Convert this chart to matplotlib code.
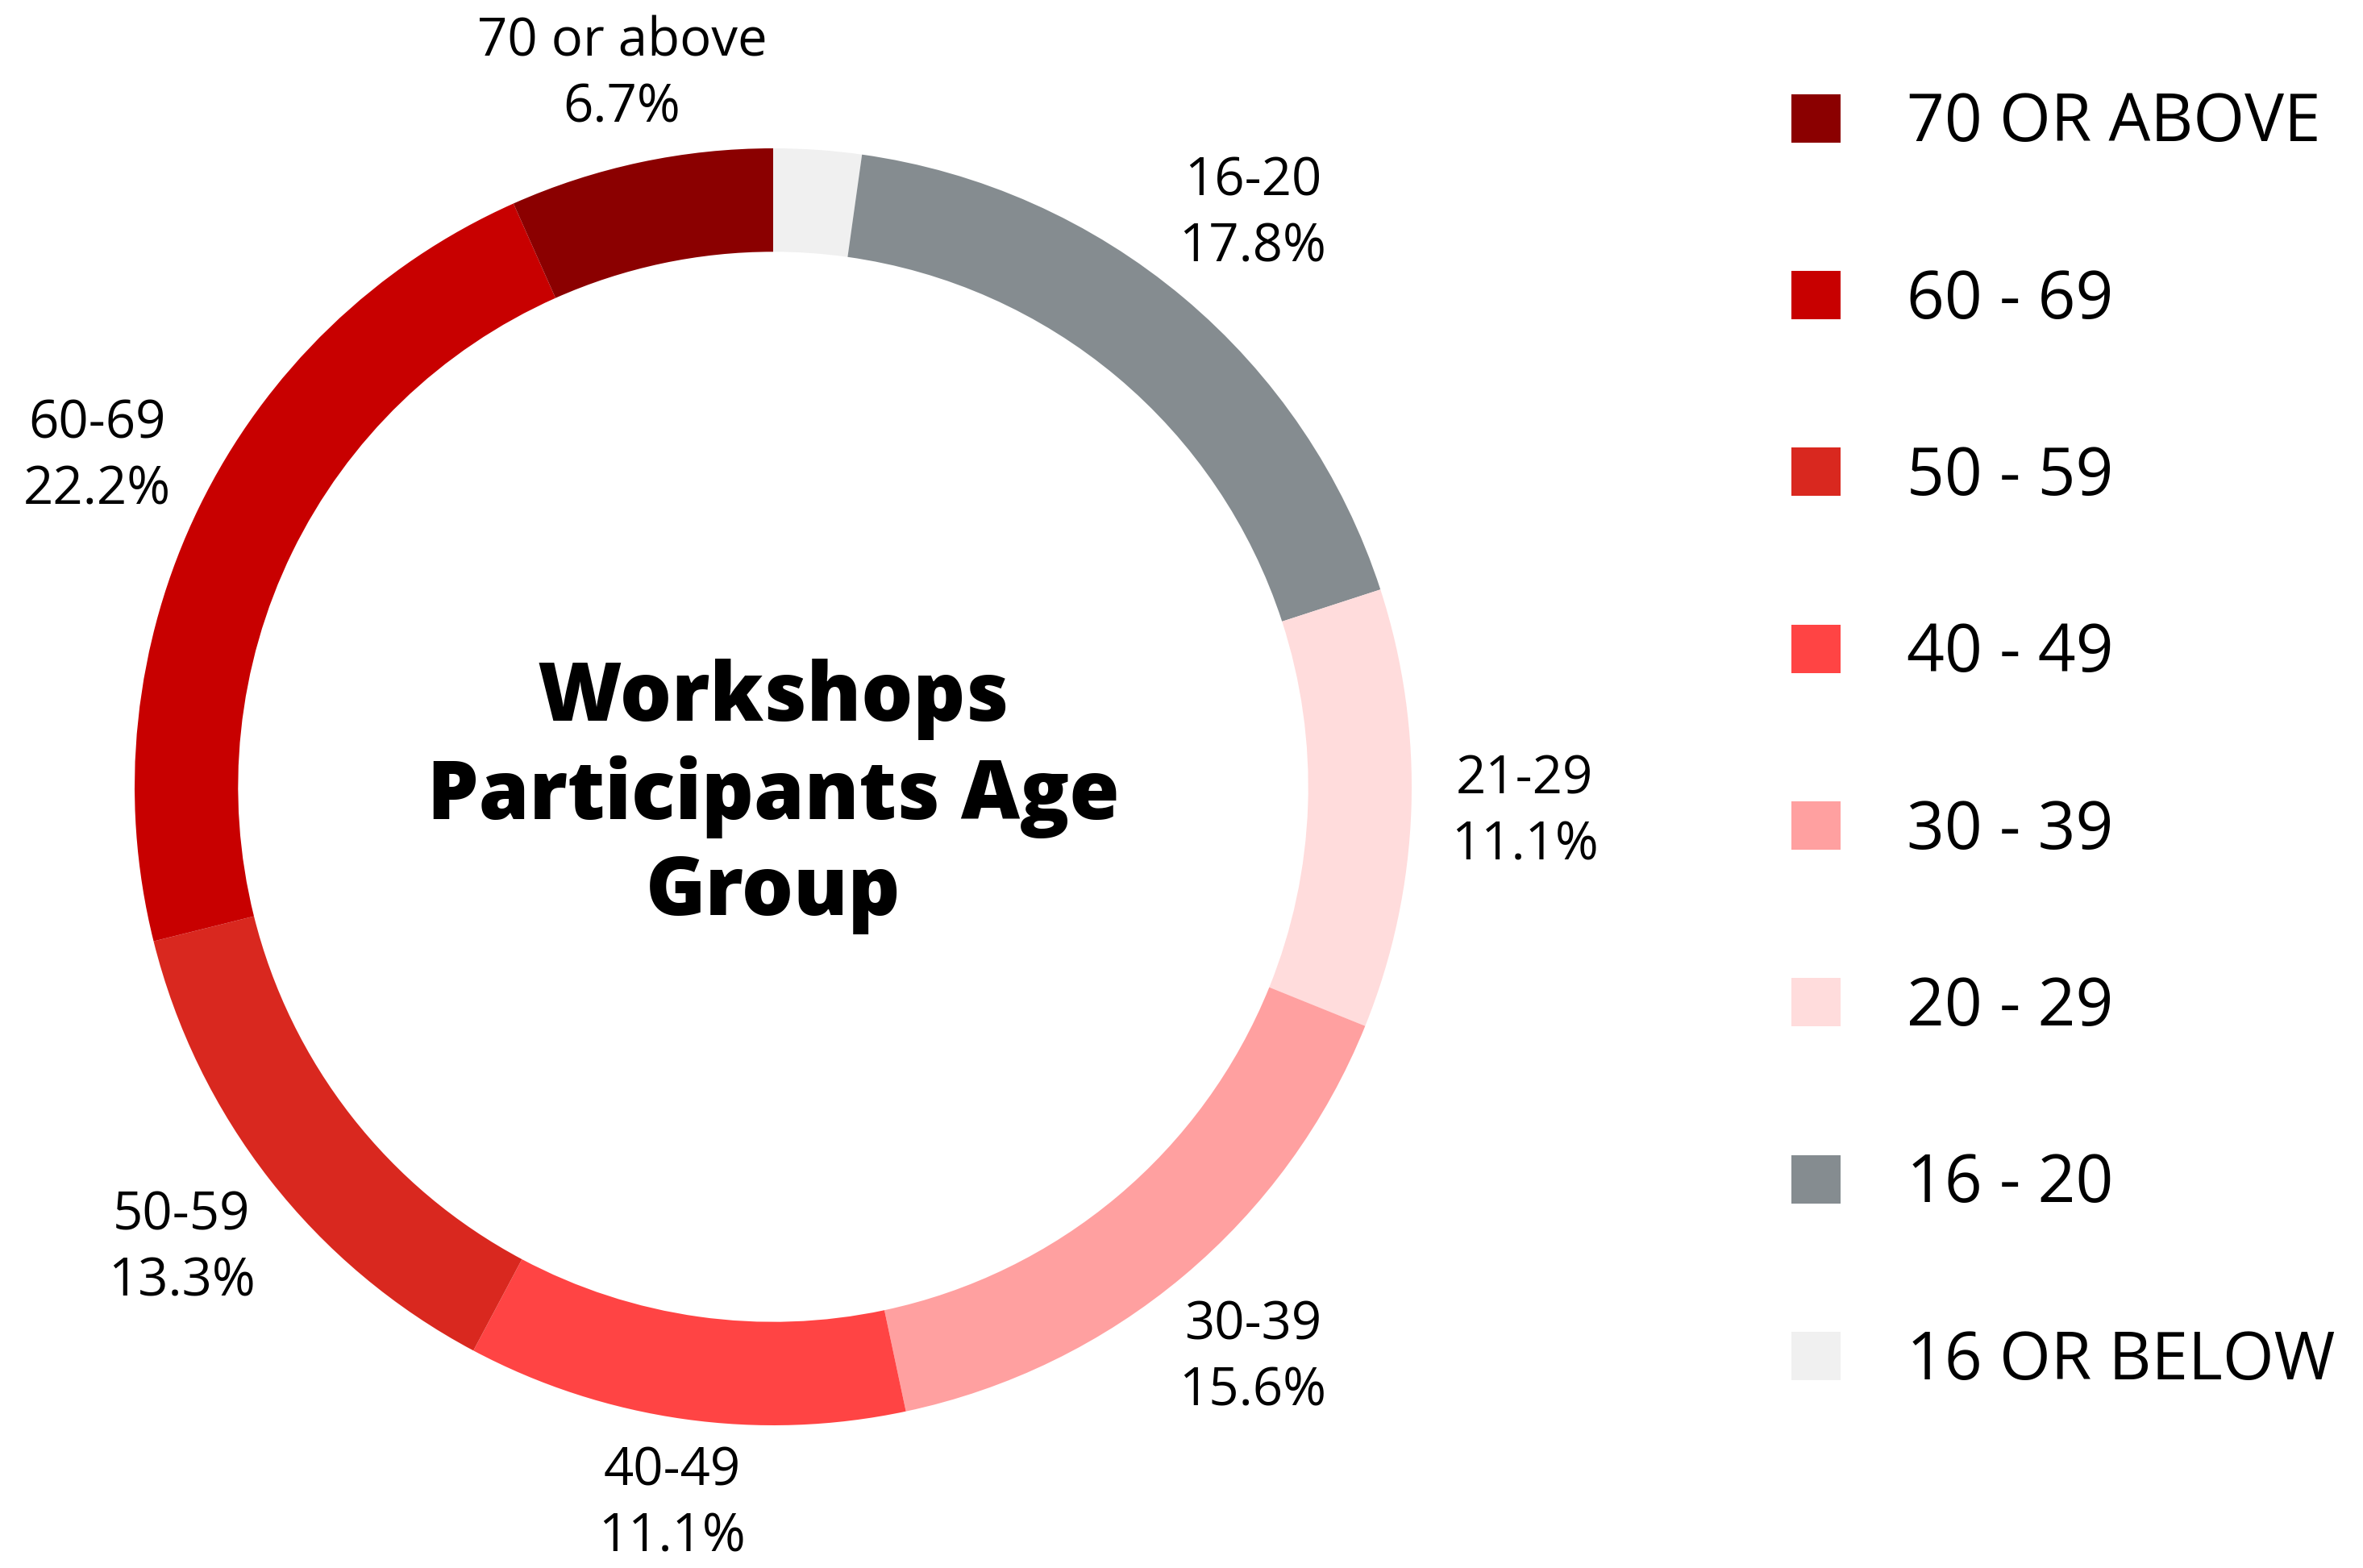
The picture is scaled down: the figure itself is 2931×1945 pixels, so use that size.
import numpy as np
import matplotlib.pyplot as plt
from matplotlib.patches import Patch

# counts per age group, clockwise from the top
groups = ['16 or below', '16-20', '21-29', '30-39', '40-49', '50-59', '60-69', '70 or above']
counts = [1, 8, 5, 7, 5, 6, 10, 3]
colors = ['#f0f0f0', '#858c90', '#ffdcdc', '#ffa0a0', '#ff4444', '#d9281f', '#c80000', '#8b0000']
legend_labels = ['16 OR BELOW', '16 - 20', '20 - 29', '30 - 39', '40 - 49', '50 - 59', '60 - 69', '70 OR ABOVE']
show_label = [False, True, True, True, True, True, True, True]

plt.rcParams['font.family'] = ['Open Sans', 'DejaVu Sans']

W, H, DPI = 2931, 1945, 200
fig = plt.figure(figsize=(W / DPI, H / DPI), dpi=DPI)

# square axes so that 1 data unit = 792 px, centred at (959, 976)
R = 1.2
S = 792 * 2 * R
cx, cy = 959, H - 976
ax = fig.add_axes([(cx - S / 2) / W, (cy - S / 2) / H, S / W, S / H])

total = sum(counts)
wedges, _ = ax.pie(counts, colors=colors, startangle=90, counterclock=False,
                   radius=1.0, wedgeprops=dict(width=0.162, edgecolor='none'))

cum = 0
for g, c, show in zip(groups, counts, show_label):
    mid = cum + c / 2
    cum += c
    ang = np.deg2rad(90 - 360 * mid / total)
    if not show:
        continue
    r = 1.178 - 0.045 * abs(np.sin(ang)) ** 6
    ax.text(r * np.cos(ang), r * np.sin(ang), f"{g}\n{c / total * 100:.1f}%",
            ha='center', va='center', fontsize=23.5, linespacing=1.32)

ax.text(0, -0.015, 'Workshops\nParticipants Age\nGroup', ha='center', va='center',
        fontsize=36.3, fontweight='heavy', linespacing=1.24)

ax.set_xlim(-R, R)
ax.set_ylim(-R, R)
ax.set_aspect('equal')
ax.axis('off')

handles = [Patch(facecolor=w.get_facecolor(), edgecolor='none') for w in wedges]
leg = fig.legend(handles[::-1], legend_labels[::-1], loc='upper left',
                 bbox_to_anchor=(2189 / W, 1 - 80 / H), frameon=False,
                 fontsize=29.5, handlelength=0.75, handleheight=0.75,
                 handletextpad=1.0, labelspacing=1.67, borderaxespad=0)

fig.savefig('out.png', dpi=DPI, facecolor='white')
